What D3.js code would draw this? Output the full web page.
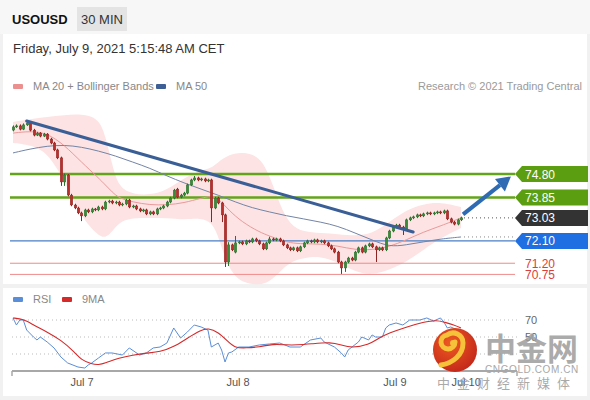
<!DOCTYPE html>
<html><head><meta charset="utf-8">
<script src="https://cdn.jsdelivr.net/npm/d3@7"></script>
<style>
html,body{margin:0;padding:0;background:#f1f1f1;}
svg{display:block;font-family:"Liberation Sans",Arial,Helvetica,sans-serif;}
</style></head><body>
<svg id="c" width="590" height="400"></svg>
<script>
const symbol = "USOUSD";
const timeframe = "30 MIN";
const stamp = "Friday, July 9, 2021 5:15:48 AM CET";
const legendMain = ["MA 20 + Bollinger Bands", "MA 50"];
const legendRsi = ["RSI", "9MA"];
const credit = "Research \u00A9 2021 Trading Central";

// [open, high, low, close] per 30-min candle
const ohlc = [
[76.57,76.76,76.52,76.70],[76.70,76.80,76.66,76.74],[76.74,76.80,76.56,76.61],[76.61,76.84,76.57,76.78],
[76.78,76.94,76.74,76.86],[76.86,76.90,76.52,76.57],[76.57,76.62,76.32,76.37],[76.37,76.50,76.33,76.45],
[76.45,76.49,76.28,76.33],[76.33,76.46,76.29,76.41],[76.41,76.45,76.16,76.21],[76.21,76.26,76.00,76.05],
[76.05,76.10,75.72,75.77],[75.77,75.82,75.40,75.45],[75.45,75.50,74.32,74.48],[74.48,74.82,74.32,74.76],
[74.76,74.80,73.90,73.95],[73.95,74.00,73.50,73.55],[73.55,73.60,73.38,73.43],[73.43,73.48,73.18,73.23],
[73.23,73.28,72.90,73.11],[73.11,73.40,73.06,73.35],[73.35,73.40,73.22,73.27],[73.27,73.44,73.22,73.39],
[73.39,73.43,73.30,73.35],[73.35,73.52,73.30,73.47],[73.47,73.52,73.34,73.39],[73.39,73.72,73.34,73.67],
[73.67,73.76,73.62,73.71],[73.71,73.76,73.58,73.63],[73.63,73.72,73.58,73.67],[73.67,73.72,73.50,73.55],
[73.55,73.64,73.50,73.59],[73.59,73.80,73.54,73.75],[73.75,73.80,73.42,73.47],[73.47,73.56,73.42,73.51],
[73.51,73.56,73.34,73.39],[73.39,73.44,73.26,73.31],[73.31,73.40,73.26,73.35],[73.35,73.40,73.14,73.19],
[73.19,73.32,73.14,73.27],[73.27,73.32,73.14,73.19],[73.19,73.44,73.14,73.39],[73.39,73.48,73.34,73.43],
[73.43,73.56,73.38,73.51],[73.51,73.72,73.46,73.67],[73.67,73.88,73.62,73.83],[73.83,74.20,73.78,74.15],
[74.19,74.24,73.82,73.87],[73.87,74.00,73.82,73.95],[73.95,74.08,73.90,74.03],[74.03,74.41,73.98,74.36],
[74.36,74.61,74.31,74.56],[74.56,74.72,74.51,74.64],[74.64,74.69,74.51,74.56],[74.56,74.65,74.51,74.60],
[74.60,74.65,74.47,74.52],[74.52,74.61,74.47,74.56],[74.56,74.61,72.86,73.43],[73.43,73.88,73.38,73.83],
[73.83,73.88,73.58,73.63],[73.63,73.68,72.86,73.15],[73.15,73.20,71.05,71.25],[71.25,72.05,71.09,71.94],
[71.94,71.99,71.69,71.74],[71.65,72.30,71.60,72.02],[72.02,72.11,71.97,72.06],[72.06,72.11,71.93,71.98],
[71.98,72.15,71.93,72.10],[72.10,72.15,72.01,72.06],[72.06,72.23,72.01,72.18],[72.18,72.23,72.05,72.10],
[72.10,72.15,71.93,71.98],[71.98,72.03,71.73,71.78],[71.78,72.07,71.73,72.02],[72.02,72.27,71.97,72.18],
[72.18,72.23,72.09,72.14],[72.14,72.23,72.09,72.18],[72.18,72.23,72.05,72.10],[72.10,72.15,71.89,71.94],
[71.94,71.99,71.77,71.82],[71.82,71.87,71.69,71.74],[71.74,71.87,71.69,71.82],[71.82,71.87,71.65,71.70],
[71.70,71.91,71.65,71.86],[71.86,72.07,71.81,72.02],[72.02,72.15,71.97,72.10],[72.10,72.15,72.01,72.06],
[72.06,72.19,72.01,72.14],[72.14,72.19,72.01,72.06],[72.06,72.15,72.01,72.10],[72.10,72.15,71.97,72.02],
[72.02,72.07,71.85,71.90],[71.90,71.95,71.73,71.78],[71.78,71.83,71.60,71.65],[71.65,71.70,71.20,71.25],
[71.25,71.30,70.77,71.01],[71.01,71.30,70.85,71.25],[71.25,71.46,71.20,71.41],[71.41,71.46,71.28,71.33],
[71.33,71.70,71.28,71.65],[71.65,71.87,71.60,71.82],[71.82,71.87,71.60,71.65],[71.65,71.95,71.60,71.90],
[71.90,72.03,71.85,71.98],[71.98,72.03,71.81,71.86],[71.86,71.91,71.25,71.74],[71.74,71.87,71.69,71.82],
[71.82,71.87,71.69,71.74],[71.74,72.27,71.69,72.22],[72.22,72.55,72.17,72.50],[72.50,72.71,72.45,72.66],
[72.66,72.79,72.61,72.74],[72.74,72.79,72.61,72.66],[72.66,72.71,72.34,72.58],[72.58,73.00,72.53,72.95],
[72.95,73.08,72.90,73.03],[73.03,73.12,72.98,73.07],[73.07,73.20,73.02,73.15],[73.15,73.20,73.06,73.11],
[73.11,73.24,73.06,73.19],[73.19,73.28,73.14,73.23],[73.23,73.28,73.14,73.19],[73.19,73.28,73.14,73.23],
[73.23,73.32,73.18,73.27],[73.27,73.32,73.18,73.23],[73.23,73.36,73.18,73.31],[73.31,73.36,72.94,72.99],
[72.99,73.04,72.81,72.86],[72.86,72.91,72.73,72.78],[72.78,73.00,72.73,72.95],[72.95,73.08,72.90,73.03]
];

const bandIdx = [0,5,10,15,20,25,27,29,31,35,40,45,50,55,58,60,63,67,72,75,78,81,85,90,95,100,105,110,115,120,125,131];
const bbUpper = [76.90,77.02,77.10,77.18,77.22,77.06,76.37,75.16,74.24,73.99,73.95,74.15,74.64,74.96,75.04,75.28,75.57,75.69,75.53,74.76,73.55,72.74,72.46,72.42,72.38,72.30,72.38,72.86,73.35,73.59,73.67,73.47];
const bbLower = [76.05,75.97,75.69,74.56,73.03,72.30,72.22,72.46,72.86,73.03,73.03,73.03,72.95,73.03,72.86,72.34,70.93,70.40,70.32,70.45,70.85,71.25,71.41,71.49,71.25,70.85,70.73,70.93,71.25,71.74,72.22,72.62];
const ma20 = [76.45,76.53,76.45,75.97,75.28,74.64,74.36,74.07,73.83,73.67,73.55,73.55,73.63,73.83,73.91,73.83,73.35,72.86,72.46,72.30,72.14,72.02,71.98,71.98,71.90,71.74,71.74,71.86,72.14,72.46,72.70,73.03];

const ma50Idx = [0,5,10,15,20,25,30,35,40,45,50,55,60,65,70,75,80,85,90,95,100,105,110,115,120,125,131];
const ma50 = [75.65,75.81,75.93,75.97,75.89,75.73,75.53,75.28,75.04,74.72,74.44,74.19,73.95,73.67,73.43,73.27,73.11,72.99,72.86,72.70,72.42,72.14,71.86,71.94,72.06,72.18,72.26];

const rsiIdx = [0,1,2,3,4,6,7,8,10,12,14,16,19,21,22,23,25,27,29,32,34,37,39,41,43,45,47,49,51,53,55,57,58,60,61,62,63,64,66,69,72,75,78,81,84,87,90,91,94,96,97,98,101,102,104,105,106,108,109,110,112,114,116,119,121,123,125,126,127,128,130,131];
const rsi = [72.4,64.1,70,70,58.2,50,46.5,50,44.1,37.1,26.5,19.4,14.7,13.5,17.1,19.4,25.3,31.2,31.2,28.8,37.1,28.8,31.2,37.1,38.2,42.9,60.6,48.8,55.9,64.1,61.8,58.2,38.2,42.9,34.7,20.6,31.2,32.4,38.2,38.2,40.6,41.8,42.9,38.2,38.2,46.5,48.8,44.1,38.2,31.2,26.5,34.7,44.1,50,46.5,52.4,50,50,60.6,64.1,66.5,64.1,70,70,72.4,68.8,72.4,67.6,60.6,61.8,58.2,57.1];
const rsiMaIdx = [0,3,6,10,14,18,20,23,25,27,31,35,39,43,47,51,55,57,60,63,65,68,72,76,80,83,87,93,96,99,104,107,110,115,120,124,126,129,131];
const rsiMa = [72.4,71.2,64.1,55.9,46.5,32.4,22.9,18.2,17.1,19.4,25.3,28.8,31.2,32.4,38.2,48.8,58.2,60.6,55.9,44.1,37.1,37.1,38.2,41.8,40.6,40.6,41.8,44.1,40.6,37.1,40.6,48.8,54.7,61.8,67.6,70,67.6,64.1,60.6];
const rsiGrid = [70, 50, 30];
const rsiTickLabels = [70, 50];

const levelValues = [74.80, 73.85, 73.03, 72.10, 71.20, 70.75];
const levelKinds = ["resistance", "resistance", "last", "pivot", "support", "support"];
const ma50Last = 72.26;

const dayLabels = ["Jul 7", "Jul 8", "Jul 9", "Jul 10"];
const dayIdx = [20.2, 65.8, 111.7, 132.5];

const trendIdx = [4, 117];
const trendVals = [76.94, 72.46];
const arrowIdx = [131.6, 145.6];
const arrowVals = [73.17, 74.70];

// ---------- drawing ----------
const svg = d3.select("#c");
const W = 590, H = 400;

svg.append("rect").attr("width", W).attr("height", H).attr("fill", "#f1f1f1");
svg.append("rect").attr("x", 0).attr("y", 0).attr("width", W).attr("height", 34).attr("fill", "#f7f7f7");
svg.append("rect").attr("x", 3).attr("y", 34).attr("width", 584).attr("height", 250).attr("fill", "#ffffff");
svg.append("rect").attr("x", 3).attr("y", 288).attr("width", 584).attr("height", 108).attr("fill", "#ffffff");

// header
svg.append("text").attr("x", 12).attr("y", 24).attr("font-size", 13).attr("font-weight", "bold")
  .attr("fill", "#111").text(symbol);
svg.append("rect").attr("x", 77).attr("y", 7).attr("width", 50).attr("height", 24).attr("fill", "#e4e4e4");
svg.append("text").attr("x", 102).attr("y", 24).attr("text-anchor", "middle").attr("font-size", 13)
  .attr("fill", "#333").text(timeframe);
svg.append("text").attr("x", 13).attr("y", 53).attr("font-size", 13).attr("fill", "#333").text(stamp);

// legends
const legCol = ["#ec8f8f", "#3d5f96"];
const legX = [13, 156];
legendMain.forEach((t, k) => {
  svg.append("rect").attr("x", legX[k]).attr("y", 84).attr("width", 10).attr("height", 5).attr("rx", 1).attr("fill", legCol[k]);
  svg.append("text").attr("x", legX[k] + 20).attr("y", 90).attr("font-size", 11).attr("fill", "#888").text(t);
});
svg.append("text").attr("x", 582).attr("y", 90).attr("text-anchor", "end").attr("font-size", 11)
  .attr("fill", "#9a9a9a").text(credit);

// scales
const x = d3.scaleLinear().domain([0, ohlc.length - 1]).range([13, 461]);
const y = d3.scaleLinear().domain([74.80, 70.75]).range([174, 274.4]);
const yR = d3.scaleLinear().domain([30, 70]).range([354, 320]);

const main = svg.append("g");

// bollinger band
const bandData = bandIdx.map((d, k) => ({i: d, u: bbUpper[k], l: bbLower[k], m: ma20[k]}));
main.append("path").datum(bandData)
  .attr("d", d3.area().x(d => x(d.i)).y0(d => y(d.l)).y1(d => y(d.u)).curve(d3.curveBasis))
  .attr("fill", "#fde3e3");

// level lines
const lineStyle = {
  resistance: {c: "#63a51a", w: 2.6},
  pivot: {c: "#4a7fc4", w: 1.2},
  support: {c: "#f08a8a", w: 1}
};
levelValues.forEach((v, k) => {
  const s = lineStyle[levelKinds[k]];
  if (!s) return;
  main.append("line").attr("x1", 10).attr("x2", 515).attr("y1", y(v)).attr("y2", y(v))
    .attr("stroke", s.c).attr("stroke-width", s.w);
});

// MA lines
main.append("path").datum(bandData)
  .attr("d", d3.line().x(d => x(d.i)).y(d => y(d.m)).curve(d3.curveBasis))
  .attr("fill", "none").attr("stroke", "#e99a9a").attr("stroke-width", 1);
main.append("path").datum(ma50Idx.map((d, k) => ({i: d, v: ma50[k]})))
  .attr("d", d3.line().x(d => x(d.i)).y(d => y(d.v)).curve(d3.curveBasis))
  .attr("fill", "none").attr("stroke", "#7384a6").attr("stroke-width", 1);

// dotted guides to the tags
const lastClose = ohlc[ohlc.length - 1][3];
main.append("line").attr("x1", x(ohlc.length - 1) + 3).attr("x2", 515)
  .attr("y1", y(lastClose)).attr("y2", y(lastClose))
  .attr("stroke", "#555").attr("stroke-width", 1).attr("stroke-dasharray", "1,3");
main.append("line").attr("x1", x(ohlc.length - 1) + 3).attr("x2", 515)
  .attr("y1", y(ma50Last)).attr("y2", y(ma50Last))
  .attr("stroke", "#888").attr("stroke-width", 1).attr("stroke-dasharray", "1,3");

// candles
const cg = main.append("g");
ohlc.forEach((d, i) => {
  const [o, h, l, c] = d;
  const up = c >= o;
  const col = up ? "#3a8a3a" : "#b8302c";
  const cx = Math.round(x(i)) + 0.5;
  cg.append("line").attr("x1", cx).attr("x2", cx).attr("y1", y(h)).attr("y2", y(l))
    .attr("stroke", up ? "#2f6f2f" : "#8e2522").attr("stroke-width", 1);
  const top = y(Math.max(o, c)), bot = y(Math.min(o, c));
  cg.append("rect").attr("x", cx - 1.3).attr("width", 2.6)
    .attr("y", top).attr("height", Math.max(1, bot - top))
    .attr("fill", col).attr("stroke", up ? "#2f6f2f" : "#8e2522").attr("stroke-width", 0.4);
});

// trend line
main.append("line")
  .attr("x1", x(trendIdx[0])).attr("y1", y(trendVals[0]))
  .attr("x2", x(trendIdx[1])).attr("y2", y(trendVals[1]))
  .attr("stroke", "#3a5e96").attr("stroke-width", 3).attr("stroke-linecap", "round");

// forecast arrow
const ax1 = x(arrowIdx[0]), ay1 = y(arrowVals[0]), ax2 = x(arrowIdx[1]), ay2 = y(arrowVals[1]);
const ang = Math.atan2(ay2 - ay1, ax2 - ax1);
const hl = 14, hw = 8;
const bx = ax2 - hl * Math.cos(ang), by = ay2 - hl * Math.sin(ang);
main.append("line").attr("x1", ax1).attr("y1", ay1).attr("x2", bx).attr("y2", by)
  .attr("stroke", "#2e6bb2").attr("stroke-width", 4);
main.append("path")
  .attr("d", `M${ax2},${ay2}L${bx + hw * Math.sin(ang)},${by - hw * Math.cos(ang)}L${bx - hw * Math.sin(ang)},${by + hw * Math.cos(ang)}Z`)
  .attr("fill", "#2e6bb2");

// tags
const tagFill = {resistance: "#5b9e12", last: "#333333", pivot: "#1f6fe3"};
levelValues.forEach((v, k) => {
  const kind = levelKinds[k];
  const yy = y(v);
  if (tagFill[kind]) {
    main.append("path")
      .attr("d", `M515,${yy}L522,${yy - 8}L588,${yy - 8}L588,${yy + 8}L522,${yy + 8}Z`)
      .attr("fill", tagFill[kind]);
    main.append("text").attr("x", 540).attr("y", yy + 4.5).attr("text-anchor", "middle")
      .attr("font-size", 12).attr("fill", "#fff").text(v.toFixed(2));
  } else {
    main.append("text").attr("x", 525).attr("y", yy + 4.5).attr("font-size", 12)
      .attr("fill", "#d9403c").text(v.toFixed(2));
  }
});

// ---------- RSI panel ----------
const rg = svg.append("g");
const rCol = ["#5b8ed8", "#d42a2a"];
const rLegX = [13, 62];
legendRsi.forEach((t, k) => {
  rg.append("rect").attr("x", rLegX[k]).attr("y", 297).attr("width", 10).attr("height", 5).attr("rx", 1).attr("fill", rCol[k]);
  rg.append("text").attr("x", rLegX[k] + 20).attr("y", 303).attr("font-size", 11).attr("fill", "#888").text(t);
});
rsiGrid.forEach(t => {
  rg.append("line").attr("x1", 12).attr("x2", 517).attr("y1", yR(t)).attr("y2", yR(t))
    .attr("stroke", "#bbb").attr("stroke-width", 1).attr("stroke-dasharray", "1,3");
});
rsiTickLabels.forEach(t => {
  rg.append("text").attr("x", 525).attr("y", yR(t) + 4).attr("font-size", 11).attr("fill", "#666").text(t);
});
rg.append("path").datum(rsiIdx.map((d, k) => ({i: d, v: rsi[k]})))
  .attr("d", d3.line().x(d => x(d.i)).y(d => yR(d.v)))
  .attr("fill", "none").attr("stroke", rCol[0]).attr("stroke-width", 1);
rg.append("path").datum(rsiMaIdx.map((d, k) => ({i: d, v: rsiMa[k]})))
  .attr("d", d3.line().x(d => x(d.i)).y(d => yR(d.v)).curve(d3.curveBasis))
  .attr("fill", "none").attr("stroke", rCol[1]).attr("stroke-width", 1.1);

// x axis
const ax = rg.append("g").attr("transform", "translate(0,371)");
ax.append("line").attr("x1", 12).attr("x2", 517).attr("stroke", "#a8a8a8").attr("stroke-width", 2);
[12, 517].forEach(px => ax.append("line").attr("x1", px).attr("x2", px).attr("y1", 0).attr("y2", 5)
  .attr("stroke", "#a8a8a8").attr("stroke-width", 1.5));
dayLabels.forEach((t, k) => {
  ax.append("text").attr("x", x(dayIdx[k])).attr("y", 15).attr("text-anchor", "middle")
    .attr("font-size", 11).attr("fill", "#555").text(t);
});

// ---------- watermark ----------
const wm = svg.append("g");
const grad = svg.append("defs").append("radialGradient").attr("id", "lg").attr("cx", "40%").attr("cy", "35%").attr("r", "70%");
grad.append("stop").attr("offset", "0%").attr("stop-color", "#ee5a22");
grad.append("stop").attr("offset", "100%").attr("stop-color", "#c2261a");
wm.append("circle").attr("cx", 455).attr("cy", 350).attr("r", 22).attr("fill", "url(#lg)");
wm.append("path")
  .attr("d", "M455,342 a7,7 0 1,1 -8,-7 a10,10 0 0,1 16,8 c0,12 -10,20 -22,22")
  .attr("fill", "none").attr("stroke", "#f6c23a").attr("stroke-width", 5).attr("stroke-linecap", "round");
wm.append("circle").attr("cx", 453).attr("cy", 343).attr("r", 3).attr("fill", "#f6c23a");
wm.append("text").attr("x", 485).attr("y", 360).attr("font-size", 31).attr("font-weight", "bold")
  .attr("font-family", "'Noto Sans CJK SC', sans-serif").attr("fill", "#9c9c9c").attr("fill-opacity", 0.85).text("中金网");
wm.append("text").attr("x", 485).attr("y", 373).attr("font-size", 10).attr("letter-spacing", 0.6)
  .attr("fill", "#a8a8a8").text("CNGOLD.COM.CN");
wm.append("text").attr("x", 437).attr("y", 388).attr("font-size", 13).attr("letter-spacing", 7)
  .attr("font-family", "'Noto Sans CJK SC', sans-serif").attr("fill", "#9a9a9a").attr("fill-opacity", 0.85).text("中金财经新媒体");
</script>
</body></html>
